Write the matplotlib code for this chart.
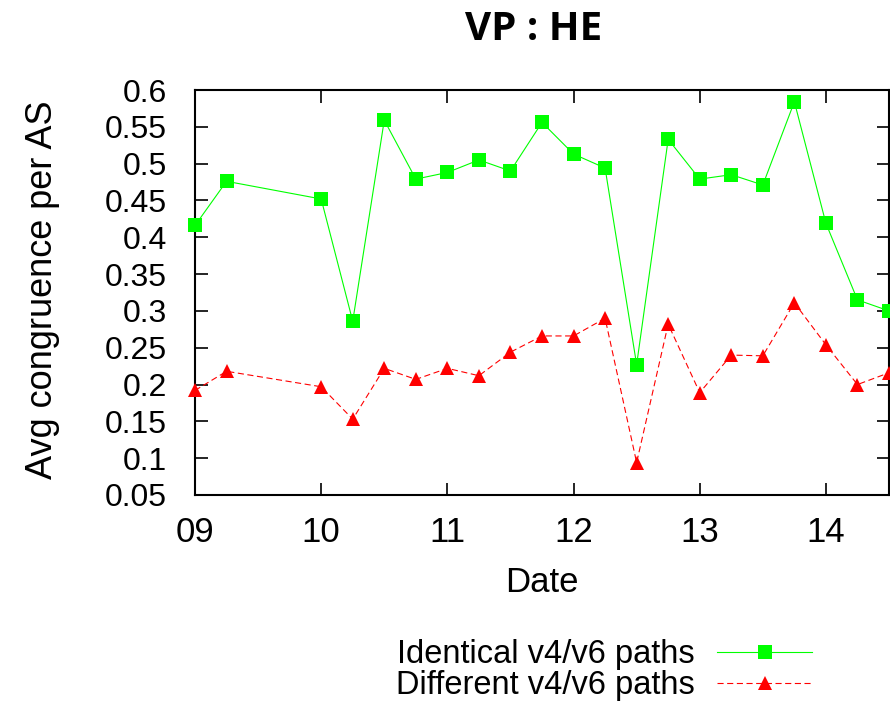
import matplotlib
matplotlib.use("Agg")
import matplotlib.pyplot as plt

dates = [9.0, 9.25, 10.0, 10.25, 10.5, 10.75, 11.0, 11.25, 11.5, 11.75, 12.0,
         12.25, 12.5, 12.75, 13.0, 13.25, 13.5, 13.75, 14.0, 14.25, 14.5]
identical = [0.416, 0.476, 0.452, 0.286, 0.559, 0.479, 0.488, 0.505, 0.490, 0.556, 0.513,
             0.494, 0.227, 0.533, 0.479, 0.485, 0.471, 0.584, 0.419, 0.315, 0.300]
different = [0.192, 0.218, 0.197, 0.153, 0.222, 0.207, 0.222, 0.212, 0.244, 0.266, 0.266,
             0.290, 0.094, 0.282, 0.189, 0.240, 0.239, 0.311, 0.254, 0.200, 0.216]
xticks = [9, 10, 11, 12, 13, 14]
xtick_labels = ["09", "10", "11", "12", "13", "14"]
yticks = [0.05, 0.1, 0.15, 0.2, 0.25, 0.3, 0.35, 0.4, 0.45, 0.5, 0.55, 0.6]
ytick_labels = ["0.05", "0.1", "0.15", "0.2", "0.25", "0.3", "0.35", "0.4", "0.45", "0.5", "0.55", "0.6"]

plt.rcParams['font.family'] = ['Liberation Sans', 'DejaVu Sans']

W, H = 890, 706
fig = plt.figure(figsize=(W / 100, H / 100), dpi=100)
left, right, top, bottom = 195, 889, 90, 495
ax = fig.add_axes([left / W, 1 - bottom / H, (right - left) / W, (bottom - top) / H])

ax.plot(dates, identical, color='#00ff00', lw=0.8, marker='s', markersize=10,
        markeredgewidth=0, label='Identical v4/v6 paths', clip_on=False, zorder=3)
ax.plot(dates, different, color='#ff0000', lw=0.8, ls=(0, (5.5, 3.2)), marker='^', markersize=10.5,
        markeredgewidth=0, label='Different v4/v6 paths', clip_on=False, zorder=3)

ax.set_xlim(9, 14.5)
ax.set_ylim(0.05, 0.6)
ax.set_xticks(xticks)
ax.set_xticklabels(xtick_labels)
ax.set_yticks(yticks)
ax.set_yticklabels(ytick_labels)
ax.tick_params(direction='in', length=9, width=1.2, top=True, right=True)
ax.tick_params(axis='y', labelsize=23, pad=20)
ax.tick_params(axis='x', labelsize=25, pad=15)
for lab in ax.get_yticklabels() + ax.get_xticklabels():
    lab.set_family(['Liberation Sans Narrow', 'Liberation Sans', 'DejaVu Sans'])
for s in ax.spines.values():
    s.set_linewidth(1.5)

ax.set_xlabel('Date', fontsize=25)
ax.xaxis.set_label_coords(542 / W, 1 - 566 / H, transform=fig.transFigure)
ax.set_ylabel('Avg congruence per AS', fontsize=26)
ax.yaxis.set_label_coords(60 / W, 1 - 290 / H, transform=fig.transFigure)
fig.text(534 / W, 1 - 30 / H, 'VP : HE', fontsize=29, fontweight='bold',
         family=['Open Sans', 'DejaVu Sans'], ha='center', va='center')

leg = fig.legend(loc='center right', bbox_to_anchor=(812 / W, 1 - 670 / H), frameon=False,
                 markerfirst=False, fontsize=23.5, handlelength=2.9, handletextpad=0.7,
                 labelspacing=0.0, borderpad=0, borderaxespad=0)

fig.savefig('out.png', dpi=100)
